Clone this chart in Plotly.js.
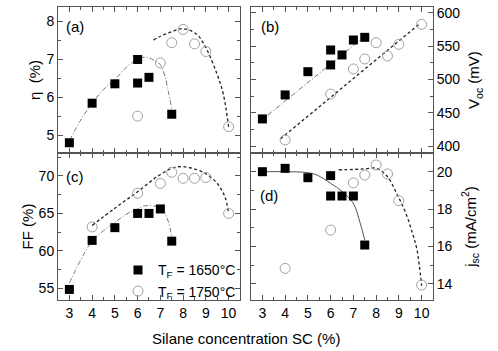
<!DOCTYPE html>
<html>
<head>
<meta charset="utf-8">
<script src="https://cdn.plot.ly/plotly-3.0.1.min.js"></script>
<style>html,body{margin:0;padding:0;background:#fff;}#chart{width:498px;height:351px;}</style>
</head>
<body>
<div id="chart"></div>
<script>
// ---- data ----
// (a) efficiency eta (%)
const aSqX = [3, 4, 5, 6, 6, 6.5, 7.5];
const aSqY = [4.8, 5.84, 6.35, 6.99, 6.37, 6.52, 5.55];
const aCiX = [6, 7, 7.5, 8, 8.5, 9, 10];
const aCiY = [5.5, 6.9, 7.43, 7.78, 7.4, 7.2, 5.22];
const aFitSqX = [3, 3.5, 4, 4.5, 5, 5.5, 6, 6.3, 6.7, 7, 7.2, 7.35, 7.5];
const aFitSqY = [4.85, 5.4, 5.84, 6.2, 6.46, 6.78, 7.0, 7.05, 6.98, 6.85, 6.55, 6.15, 5.7];
const aFitCiX = [6.7, 7, 7.5, 8, 8.6, 9, 9.5, 9.77, 10];
const aFitCiY = [7.5, 7.6, 7.72, 7.8, 7.65, 7.3, 6.59, 6.07, 5.22];

// (b) Voc (mV)
const bSqX = [3, 4, 5, 6, 6, 6.5, 7, 7.5];
const bSqY = [440.6, 476.6, 511.5, 544, 521.6, 536.6, 559, 563];
const bCiX = [4, 6, 7, 7.5, 8, 8.5, 9, 10];
const bCiY = [409, 478, 515.6, 530.6, 555, 535, 552.5, 582.5];
const bFitSqX = [2.9, 7.55];
const bFitSqY = [437, 566];
const bFitCiX = [3.8, 9.9];
const bFitCiY = [411, 583];

// (c) FF (%)
const cSqX = [3, 4, 5, 6, 6.5, 7, 7.5];
const cSqY = [54.85, 61.4, 63.1, 65.0, 65.0, 65.6, 61.3];
const cCiX = [4, 6, 7, 7.5, 8, 8.5, 9, 10];
const cCiY = [63.2, 67.7, 69.0, 70.5, 69.7, 69.7, 69.8, 65.0];
const cFitSqX = [3, 3.5, 4, 4.5, 5, 5.5, 6, 6.3, 6.7, 7, 7.2, 7.35, 7.5];
const cFitSqY = [55.7, 58.8, 61.3, 62.7, 63.8, 64.9, 65.6, 66.0, 66.0, 65.7, 65.0, 63.9, 61.9];
const cFitCiX = [4, 5, 6, 7, 7.7, 8.3, 9, 9.5, 9.84, 10];
const cFitCiY = [63.4, 65.7, 67.9, 70.2, 71.2, 71.1, 70.3, 69.0, 67.2, 65.0];

// (d) Jsc (mA/cm2)
const dSqX = [3, 4, 5, 6, 6, 6.5, 7, 7.5];
const dSqY = [20.0, 20.18, 19.68, 19.79, 18.7, 18.7, 18.7, 16.08];
const dCiX = [4, 6, 7, 7.5, 8, 8.5, 9, 10];
const dCiY = [14.83, 16.88, 19.4, 19.82, 20.36, 19.88, 18.45, 13.94];
const dFitSqX = [3, 4, 5, 5.4, 6, 6.5, 7, 7.3, 7.5];
const dFitSqY = [20.0, 20.0, 19.95, 19.82, 19.38, 18.95, 18.3, 17.25, 16.35];
const dFitCiX = [6.35, 7, 7.5, 8, 8.5, 8.9, 9.3, 9.6, 9.8, 10];
const dFitCiY = [20.1, 20.12, 20.15, 20.18, 19.73, 18.84, 17.8, 16.7, 15.8, 13.9];

const xTickVals = [3, 4, 5, 6, 7, 8, 9, 10];
const name1650 = 'T<sub>F</sub> = 1650°C';
const name1750 = 'T<sub>F</sub> = 1750°C';

// ---- styles ----
const sqMarker = {symbol: 'square', size: 9, color: '#000'};
const ciMarker = {symbol: 'circle-open', size: 10, color: '#a0a0a0', line: {width: 1, color: '#a0a0a0'}};
const fit1650 = {color: '#777', width: 1, dash: '5px,2px,1px,2px'};
const fit1750 = {color: '#222', width: 1.3, dash: '3px,2.5px'};

function fitTrace(x, y, xa, ya, line) {
  return {x: x, y: y, xaxis: xa, yaxis: ya, mode: 'lines', line: Object.assign({shape: 'spline', smoothing: 1}, line), showlegend: false, hoverinfo: 'skip'};
}
function ptTrace(x, y, xa, ya, marker, name, show) {
  return {x: x, y: y, xaxis: xa, yaxis: ya, mode: 'markers', marker: marker, name: name, showlegend: show};
}

const traces = [
  fitTrace(aFitSqX, aFitSqY, 'x', 'y', fit1650),
  fitTrace(aFitCiX, aFitCiY, 'x', 'y', fit1750),
  ptTrace(aCiX, aCiY, 'x', 'y', ciMarker, name1750, false),
  ptTrace(aSqX, aSqY, 'x', 'y', sqMarker, name1650, false),

  fitTrace(bFitSqX, bFitSqY, 'x2', 'y2', fit1650),
  fitTrace(bFitCiX, bFitCiY, 'x2', 'y2', fit1750),
  ptTrace(bCiX, bCiY, 'x2', 'y2', ciMarker, name1750, false),
  ptTrace(bSqX, bSqY, 'x2', 'y2', sqMarker, name1650, false),

  fitTrace(cFitSqX, cFitSqY, 'x3', 'y3', fit1650),
  fitTrace(cFitCiX, cFitCiY, 'x3', 'y3', fit1750),
  ptTrace(cSqX, cSqY, 'x3', 'y3', sqMarker, name1650, true),
  ptTrace(cCiX, cCiY, 'x3', 'y3', ciMarker, name1750, true),

  fitTrace(dFitSqX, dFitSqY, 'x4', 'y4', Object.assign({}, fit1650, {dash: 'solid', color: '#555', width: 1})),
  fitTrace(dFitCiX, dFitCiY, 'x4', 'y4', fit1750),
  ptTrace(dCiX, dCiY, 'x4', 'y4', ciMarker, name1750, false),
  ptTrace(dSqX, dSqY, 'x4', 'y4', sqMarker, name1650, false)
];

const font = {family: 'Liberation Sans, Arial, sans-serif', size: 14, color: '#000'};
const axisCommon = {
  showline: true, linecolor: '#555', linewidth: 1, mirror: 'ticks',
  ticks: 'inside', ticklen: 5, tickwidth: 1, tickcolor: '#555',
  showgrid: false, zeroline: false, fixedrange: true,
  tickfont: {family: font.family, size: 14, color: '#000'},
  minor: {ticks: 'inside', ticklen: 3, tickwidth: 1, tickcolor: '#555', showgrid: false}
};
function xa(domain, anchor, labels) {
  return Object.assign({}, axisCommon, {
    domain: domain, anchor: anchor, range: [2.5, 10.5],
    tickmode: 'array', tickvals: xTickVals, showticklabels: labels,
    minor: Object.assign({}, axisCommon.minor, {dtick: 0.5, tick0: 2.5})
  });
}
function ya(domain, anchor, range, dtick, minorD, side, title, standoff) {
  return Object.assign({}, axisCommon, {
    domain: domain, anchor: anchor, range: range, dtick: dtick, side: side,
    minor: Object.assign({}, axisCommon.minor, {dtick: minorD}),
    title: {text: title, font: {family: font.family, size: 15, color: '#000'}, standoff: standoff}
  });
}

const L = [0, 0.4853], R = [0.5147, 1], T = [0.5017, 1], B = [0, 0.5017];

const layout = {
  width: 498, height: 351,
  margin: {l: 58, r: 65, t: 7, b: 51},
  paper_bgcolor: '#fff', plot_bgcolor: '#fff',
  font: font,
  showlegend: true,
  legend: {x: 0.16, y: 0.156, xanchor: 'left', yanchor: 'top', bgcolor: 'rgba(0,0,0,0)',
           font: {family: font.family, size: 14, color: '#000'}, tracegroupgap: 0, itemwidth: 30},
  xaxis: xa(L, 'y', false),
  yaxis: ya(T, 'x', [4.53, 8.37], 1, 0.5, 'left', 'η  (%)', 2),
  xaxis2: xa(R, 'y2', false),
  yaxis2: ya(T, 'x2', [389.5, 608.5], 50, 25, 'right', 'V<sub>oc</sub> (mV)', 9),
  xaxis3: xa(L, 'y3', true),
  yaxis3: ya(B, 'x3', [53.44, 73.07], 5, 2.5, 'left', 'FF (%)', 1),
  xaxis4: xa(R, 'y4', true),
  yaxis4: ya(B, 'x4', [13.14, 21.0], 2, 1, 'right', 'j<sub>sc</sub> (mA/cm<sup>2</sup>)', 13),
  annotations: [
    {text: 'Silane concentration SC (%)', xref: 'paper', yref: 'paper', x: 0.5, y: -0.13, xanchor: 'center', yanchor: 'middle', showarrow: false, font: {family: font.family, size: 15, color: '#000'}},
    {text: '(a)', xref: 'paper', yref: 'paper', x: 0.0453, y: 0.935, xanchor: 'center', yanchor: 'middle', showarrow: false, font: {family: font.family, size: 15, color: '#000'}},
    {text: '(b)', xref: 'paper', yref: 'paper', x: 0.565, y: 0.932, xanchor: 'center', yanchor: 'middle', showarrow: false, font: {family: font.family, size: 15, color: '#000'}},
    {text: '(c)', xref: 'paper', yref: 'paper', x: 0.0453, y: 0.423, xanchor: 'center', yanchor: 'middle', showarrow: false, font: {family: font.family, size: 15, color: '#000'}},
    {text: '(d)', xref: 'paper', yref: 'paper', x: 0.5627, y: 0.355, xanchor: 'center', yanchor: 'middle', showarrow: false, font: {family: font.family, size: 15, color: '#000'}}
  ]
};

Plotly.newPlot('chart', traces, layout, {displayModeBar: false, staticPlot: true});
</script>
</body>
</html>
